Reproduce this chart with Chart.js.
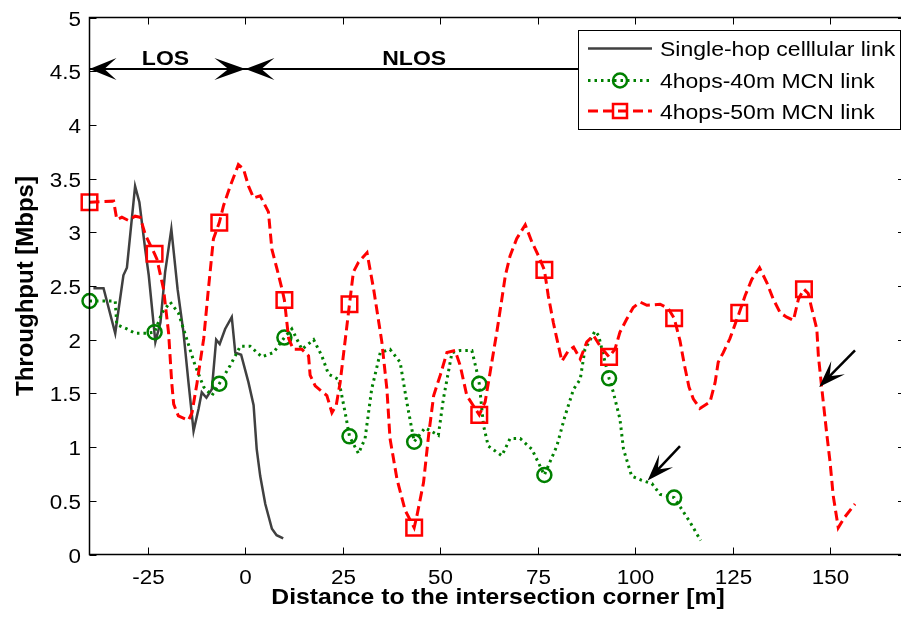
<!DOCTYPE html>
<html>
<head>
<meta charset="utf-8">
<script src="https://cdn.jsdelivr.net/npm/chart.js@4.4.1/dist/chart.umd.min.js"></script>
<style>
  html, body { margin: 0; padding: 0; overflow: hidden; background: #fff; }
  #chart { display: block; }
</style>
</head>
<body>
<canvas id="chart" width="901" height="619"></canvas>
<script>
// tick labels
const xTicks = [-25, 0, 25, 50, 75, 100, 125, 150];
const yTicks = [0, 0.5, 1, 1.5, 2, 2.5, 3, 3.5, 4, 4.5, 5];
const seriesNames = ["Single-hop celllular link", "4hops-40m MCN link", "4hops-50m MCN link"];

// single-hop cellular link (solid grey)
const singleX = [-39, -36.4, -33.4, -31.3, -30.4, -28.3, -27.2, -25.7, -24.8, -23.1, -21.8, -20.6, -19.0, -17.4, -15.9, -14.6, -13.3, -12.0, -11.2, -10.0, -8.6, -7.5, -6.6, -5.2, -3.5, -2.6, -1.1, 0.8, 2.1, 2.9, 3.8, 5.1, 6.8, 8.0, 9.7];
const singleY = [2.48, 2.48, 2.06, 2.6, 2.67, 3.43, 3.28, 2.84, 2.6, 1.98, 2.16, 2.63, 3.03, 2.47, 2.07, 1.60, 1.15, 1.36, 1.51, 1.46, 1.54, 2.0, 1.96, 2.10, 2.21, 1.88, 1.86, 1.60, 1.39, 0.98, 0.73, 0.47, 0.24, 0.18, 0.15];

// 4hops-40m MCN link (green dotted, circles)
const hop40X = [-40, -33.4, -33.0, -30.4, -28.3, -25.3, -23.3, -21.4, -19.3, -17.2, -15.0, -12.9, -10.7, -8.6, -6.7, -3.9, -1.3, 1.2, 4.2, 7.2, 10, 11.9, 14.5, 17.5, 19.6, 21.3, 23.9, 25.6, 26.7, 29.0, 30.7, 32.4, 34.6, 37.1, 39.7, 41.4, 43.3, 46.1, 49.5, 50.8, 53.0, 55.1, 58.1, 59.4, 60, 61.1, 62.3, 65.8, 67.9, 70.5, 73.5, 76.7, 79.9, 82.0, 84.2, 85.9, 87.1, 89.7, 90.6, 92.7, 93.3, 94.4, 96.1, 97.0, 99.1, 101.7, 104.3, 106.4, 110, 114.1, 116.8];
const hop40Y = [2.36, 2.36, 2.14, 2.10, 2.06, 2.06, 2.07, 2.25, 2.35, 2.25, 2.00, 1.76, 1.56, 1.48, 1.59, 1.76, 1.94, 1.94, 1.84, 1.88, 2.02, 2.10, 1.91, 2.00, 1.85, 1.68, 1.63, 1.32, 1.10, 0.94, 1.08, 1.54, 1.88, 1.91, 1.79, 1.42, 1.05, 1.18, 1.11, 1.45, 1.88, 1.90, 1.90, 1.70, 1.59, 1.20, 1.01, 0.92, 1.08, 1.08, 0.98, 0.74, 1.01, 1.29, 1.54, 1.63, 1.91, 2.08, 2.04, 1.73, 1.64, 1.51, 1.26, 0.98, 0.73, 0.69, 0.66, 0.56, 0.53, 0.30, 0.13];
const hop40Marks = [-40, -23.3, -6.7, 10, 26.7, 43.3, 60, 76.7, 93.3, 110];

// 4hops-50m MCN link (red dashed, squares)
const hop50X = [-40, -33.8, -33.0, -31.7, -30.0, -28.3, -27.0, -25.7, -23.3, -22.7, -21.0, -19.7, -18.9, -18.4, -17.2, -14.6, -13.7, -12.4, -10.7, -9.5, -8.2, -6.7, -5.6, -3.9, -1.8, -0.5, 0.8, 2.1, 3.8, 5.9, 6.8, 8.1, 9.4, 10, 11.1, 12.3, 14.5, 16.2, 16.6, 17.9, 20.9, 22.2, 23.3, 24.3, 26.7, 27.7, 29.0, 31.2, 32.9, 35.0, 36.3, 37.1, 38.9, 41.0, 43.3, 44.0, 45.7, 47.0, 48.3, 50.0, 51.7, 53.8, 55.1, 56.8, 60, 61.5, 62.8, 64.5, 65.8, 66.7, 67.9, 69.6, 71.8, 73.5, 75.2, 76.7, 77.7, 79.0, 79.9, 81.2, 82.9, 84.2, 85.9, 87.6, 89.3, 91.0, 93.3, 94.8, 96.1, 97.8, 99.5, 101.3, 103.0, 106.4, 108.5, 110, 111.5, 112.6, 113.8, 114.9, 116.6, 119.2, 120.5, 121.3, 122.6, 124.3, 126.7, 128.2, 129.9, 131.9, 133.8, 135.4, 137.2, 138.9, 140.6, 141.9, 143.3, 144.4, 145.3, 146.6, 147.0, 147.9, 149.1, 150.0, 150.8, 152.1, 153.8, 156.4];
const hop50Y = [3.28, 3.29, 3.12, 3.14, 3.11, 3.15, 3.14, 2.98, 2.80, 2.75, 2.47, 2.06, 1.60, 1.40, 1.29, 1.25, 1.32, 1.60, 2.01, 2.47, 2.94, 3.09, 3.25, 3.43, 3.63, 3.59, 3.43, 3.32, 3.34, 3.19, 2.84, 2.66, 2.47, 2.37, 2.01, 1.91, 1.91, 1.85, 1.67, 1.57, 1.48, 1.32, 1.39, 1.60, 2.33, 2.63, 2.72, 2.81, 2.47, 1.98, 1.54, 1.08, 0.70, 0.41, 0.25, 0.36, 0.67, 1.11, 1.48, 1.67, 1.88, 1.90, 1.76, 1.48, 1.30, 1.42, 1.70, 2.07, 2.38, 2.60, 2.78, 2.94, 3.07, 2.91, 2.78, 2.65, 2.41, 2.16, 2.01, 1.80, 1.90, 1.93, 1.82, 1.98, 2.04, 1.94, 1.84, 1.91, 2.07, 2.19, 2.30, 2.35, 2.32, 2.33, 2.29, 2.20, 1.99, 1.77, 1.56, 1.45, 1.36, 1.42, 1.60, 1.79, 1.88, 2.01, 2.25, 2.41, 2.56, 2.67, 2.53, 2.38, 2.25, 2.21, 2.18, 2.38, 2.47, 2.43, 2.29, 2.10, 1.85, 1.54, 1.14, 0.86, 0.55, 0.25, 0.35, 0.47];
const hop50Marks = [-40, -23.3, -6.7, 10, 26.7, 43.3, 60, 76.7, 93.3, 110, 126.7, 143.3];

// LOS / NLOS annotation
const regionLabels = ["LOS", "NLOS"];
const regionLabelX = [-20.5, 43.3];
const regionLabelY = 4.56;
const regionLineY = 4.52;

// pointer arrows
const arrowTipX = [103.2, 147.2];
const arrowTipY = [0.69, 1.56];
const arrowTailX = [111.5, 156.4];
const arrowTailY = [1.01, 1.90];

const FONT = "'Liberation Sans', Arial, sans-serif";
const SX = 1.15; // horizontal stretch of the original figure text

const toPoints = (xs, ys) => xs.map((x, i) => ({ x, y: ys[i] }));
const markerRadius = (marks, r) => (ctx) => (ctx.raw && marks.includes(ctx.raw.x)) ? r : 0;

function drawText(ctx, str, x, y, font, align, sx) {
    ctx.save();
    ctx.translate(x, y);
    ctx.scale(sx, 1);
    ctx.font = font;
    ctx.textAlign = align;
    ctx.textBaseline = "alphabetic";
    ctx.fillStyle = "#000";
    ctx.fillText(str, 0, 0);
    ctx.restore();
}

// swept-back arrow head, (dx,dy) points from the tip backwards
function arrowHead(ctx, tx, ty, dx, dy, L, W) {
    const px = -dy, py = dx;
    ctx.beginPath();
    ctx.moveTo(tx, ty);
    ctx.lineTo(tx + dx * L + px * W, ty + dy * L + py * W);
    ctx.lineTo(tx + dx * L * 0.55, ty + dy * L * 0.55);
    ctx.lineTo(tx + dx * L - px * W, ty + dy * L - py * W);
    ctx.closePath();
    ctx.fill();
}

const figurePlugin = {
    id: "figure",
    afterDatasetsDraw(chart) {
        const { ctx, chartArea: a, scales: { x, y } } = chart;
        ctx.save();
        ctx.strokeStyle = "#000";
        ctx.fillStyle = "#000";

        // LOS / NLOS line with arrows
        const ly = y.getPixelForValue(regionLineY);
        const x0 = x.getPixelForValue(-40);
        const xc = x.getPixelForValue(0);
        ctx.lineWidth = 2;
        ctx.beginPath();
        ctx.moveTo(x0, ly);
        ctx.lineTo(a.right, ly);
        ctx.stroke();
        arrowHead(ctx, x0, ly, 1, 0, 27, 11);
        arrowHead(ctx, xc, ly, -1, 0, 31, 11);
        arrowHead(ctx, xc, ly, 1, 0, 29, 11);
        regionLabels.forEach((t, i) => {
            drawText(ctx, t, x.getPixelForValue(regionLabelX[i]), y.getPixelForValue(regionLabelY), "bold 20px " + FONT, "center", SX);
        });

        // pointer arrows
        ctx.lineWidth = 2.5;
        arrowTipX.forEach((tx, i) => {
            const px = x.getPixelForValue(tx), py = y.getPixelForValue(arrowTipY[i]);
            const qx = x.getPixelForValue(arrowTailX[i]), qy = y.getPixelForValue(arrowTailY[i]);
            const len = Math.hypot(qx - px, qy - py);
            const dx = (qx - px) / len, dy = (qy - py) / len;
            ctx.beginPath();
            ctx.moveTo(px + dx * 8, py + dy * 8);
            ctx.lineTo(qx, qy);
            ctx.stroke();
            arrowHead(ctx, px, py, dx, dy, 27, 9.5);
        });

        // axes box (the right edge sits just outside the cropped figure)
        ctx.lineWidth = 1.5;
        ctx.beginPath();
        ctx.moveTo(a.right + 2, a.top);
        ctx.lineTo(a.left, a.top);
        ctx.lineTo(a.left, a.bottom);
        ctx.lineTo(a.right + 2, a.bottom);
        ctx.stroke();

        // inward ticks and tick labels
        ctx.lineWidth = 1;
        xTicks.forEach((v) => {
            const px = Math.round(x.getPixelForValue(v)) + 0.5;
            ctx.beginPath();
            ctx.moveTo(px, a.bottom); ctx.lineTo(px, a.bottom - 7);
            ctx.moveTo(px, a.top); ctx.lineTo(px, a.top + 7);
            ctx.stroke();
            drawText(ctx, String(v), px, a.bottom + 29, "19.5px " + FONT, "center", SX);
        });
        yTicks.forEach((v) => {
            const py = Math.round(y.getPixelForValue(v)) + 0.5;
            ctx.beginPath();
            ctx.moveTo(a.left, py); ctx.lineTo(a.left + 7, py);
            ctx.moveTo(a.right + 4, py); ctx.lineTo(a.right - 3, py);
            ctx.stroke();
            drawText(ctx, String(v), 81, py + 7, "19.5px " + FONT, "right", SX);
        });

        // axis titles
        drawText(ctx, "Distance to the intersection corner [m]", 498, 604, "bold 21.5px " + FONT, "center", SX);
        ctx.save();
        ctx.translate(33, (a.top + a.bottom) / 2);
        ctx.rotate(-Math.PI / 2);
        drawText(ctx, "Throughput [Mbps]", 0, 0, "bold 24px " + FONT, "center", 1);
        ctx.restore();

        // legend
        const bx = 578, by = 30, bw = 322, bh = 99;
        ctx.fillStyle = "#fff";
        ctx.fillRect(bx, by, bw, bh);
        ctx.strokeStyle = "#000";
        ctx.lineWidth = 1;
        ctx.strokeRect(bx + 0.5, by + 0.5, bw, bh);
        const rows = [48.5, 80.5, 111];
        chart.data.datasets.forEach((ds, i) => {
            const ry = rows[i];
            ctx.save();
            ctx.strokeStyle = ds.borderColor;
            ctx.lineWidth = ds.borderWidth;
            ctx.setLineDash(ds.borderDash || []);
            ctx.beginPath();
            ctx.moveTo(588, ry); ctx.lineTo(652, ry);
            ctx.stroke();
            ctx.setLineDash([]);
            if (ds.pointStyle === "circle") {
                ctx.lineWidth = 2.5;
                ctx.beginPath();
                ctx.arc(620, ry, 7, 0, Math.PI * 2);
                ctx.stroke();
            } else if (ds.pointStyle === "rect") {
                ctx.lineWidth = 2.5;
                ctx.strokeRect(620 - 7, ry - 7, 14, 14);
            }
            ctx.restore();
            drawText(ctx, seriesNames[i], 660, ry + 7.5, "20px " + FONT, "left", SX);
        });
        ctx.restore();
    }
};

new Chart(document.getElementById("chart"), {
    type: "line",
    plugins: [figurePlugin],
    data: {
        datasets: [
            {
                label: seriesNames[0],
                data: toPoints(singleX, singleY),
                borderColor: "#404040",
                borderWidth: 2.5,
                pointRadius: 0,
                pointStyle: false,
                tension: 0,
                order: 2,
                clip: false
            },
            {
                label: seriesNames[1],
                data: toPoints(hop40X, hop40Y),
                borderColor: "#008000",
                borderWidth: 3,
                borderDash: [2.5, 4],
                pointStyle: "circle",
                pointRadius: markerRadius(hop40Marks, 7),
                pointBorderWidth: 2.5,
                pointBorderColor: "#008000",
                pointBackgroundColor: "rgba(0,0,0,0)",
                tension: 0,
                order: 1,
                clip: false
            },
            {
                label: seriesNames[2],
                data: toPoints(hop50X, hop50Y),
                borderColor: "#ff0000",
                borderWidth: 3,
                borderDash: [10, 5],
                pointStyle: "rect",
                pointRadius: markerRadius(hop50Marks, 11),
                pointBorderWidth: 2.5,
                pointBorderColor: "#ff0000",
                pointBackgroundColor: "rgba(0,0,0,0)",
                tension: 0,
                order: 0,
                clip: false
            }
        ]
    },
    options: {
        responsive: false,
        animation: false,
        events: [],
        layout: { autoPadding: false, padding: { top: 17.5, right: 0, left: 0, bottom: 0 } },
        plugins: {
            legend: { display: false },
            tooltip: { enabled: false }
        },
        scales: {
            x: {
                type: "linear",
                min: -40,
                max: 168.2,
                ticks: { display: false },
                grid: { display: false },
                border: { display: false },
                afterFit: (scale) => { scale.height = 64.5; }
            },
            y: {
                min: 0,
                max: 5,
                ticks: { display: false },
                grid: { display: false },
                border: { display: false },
                afterFit: (scale) => { scale.width = 89.5; }
            }
        }
    }
});
</script>
</body>
</html>
